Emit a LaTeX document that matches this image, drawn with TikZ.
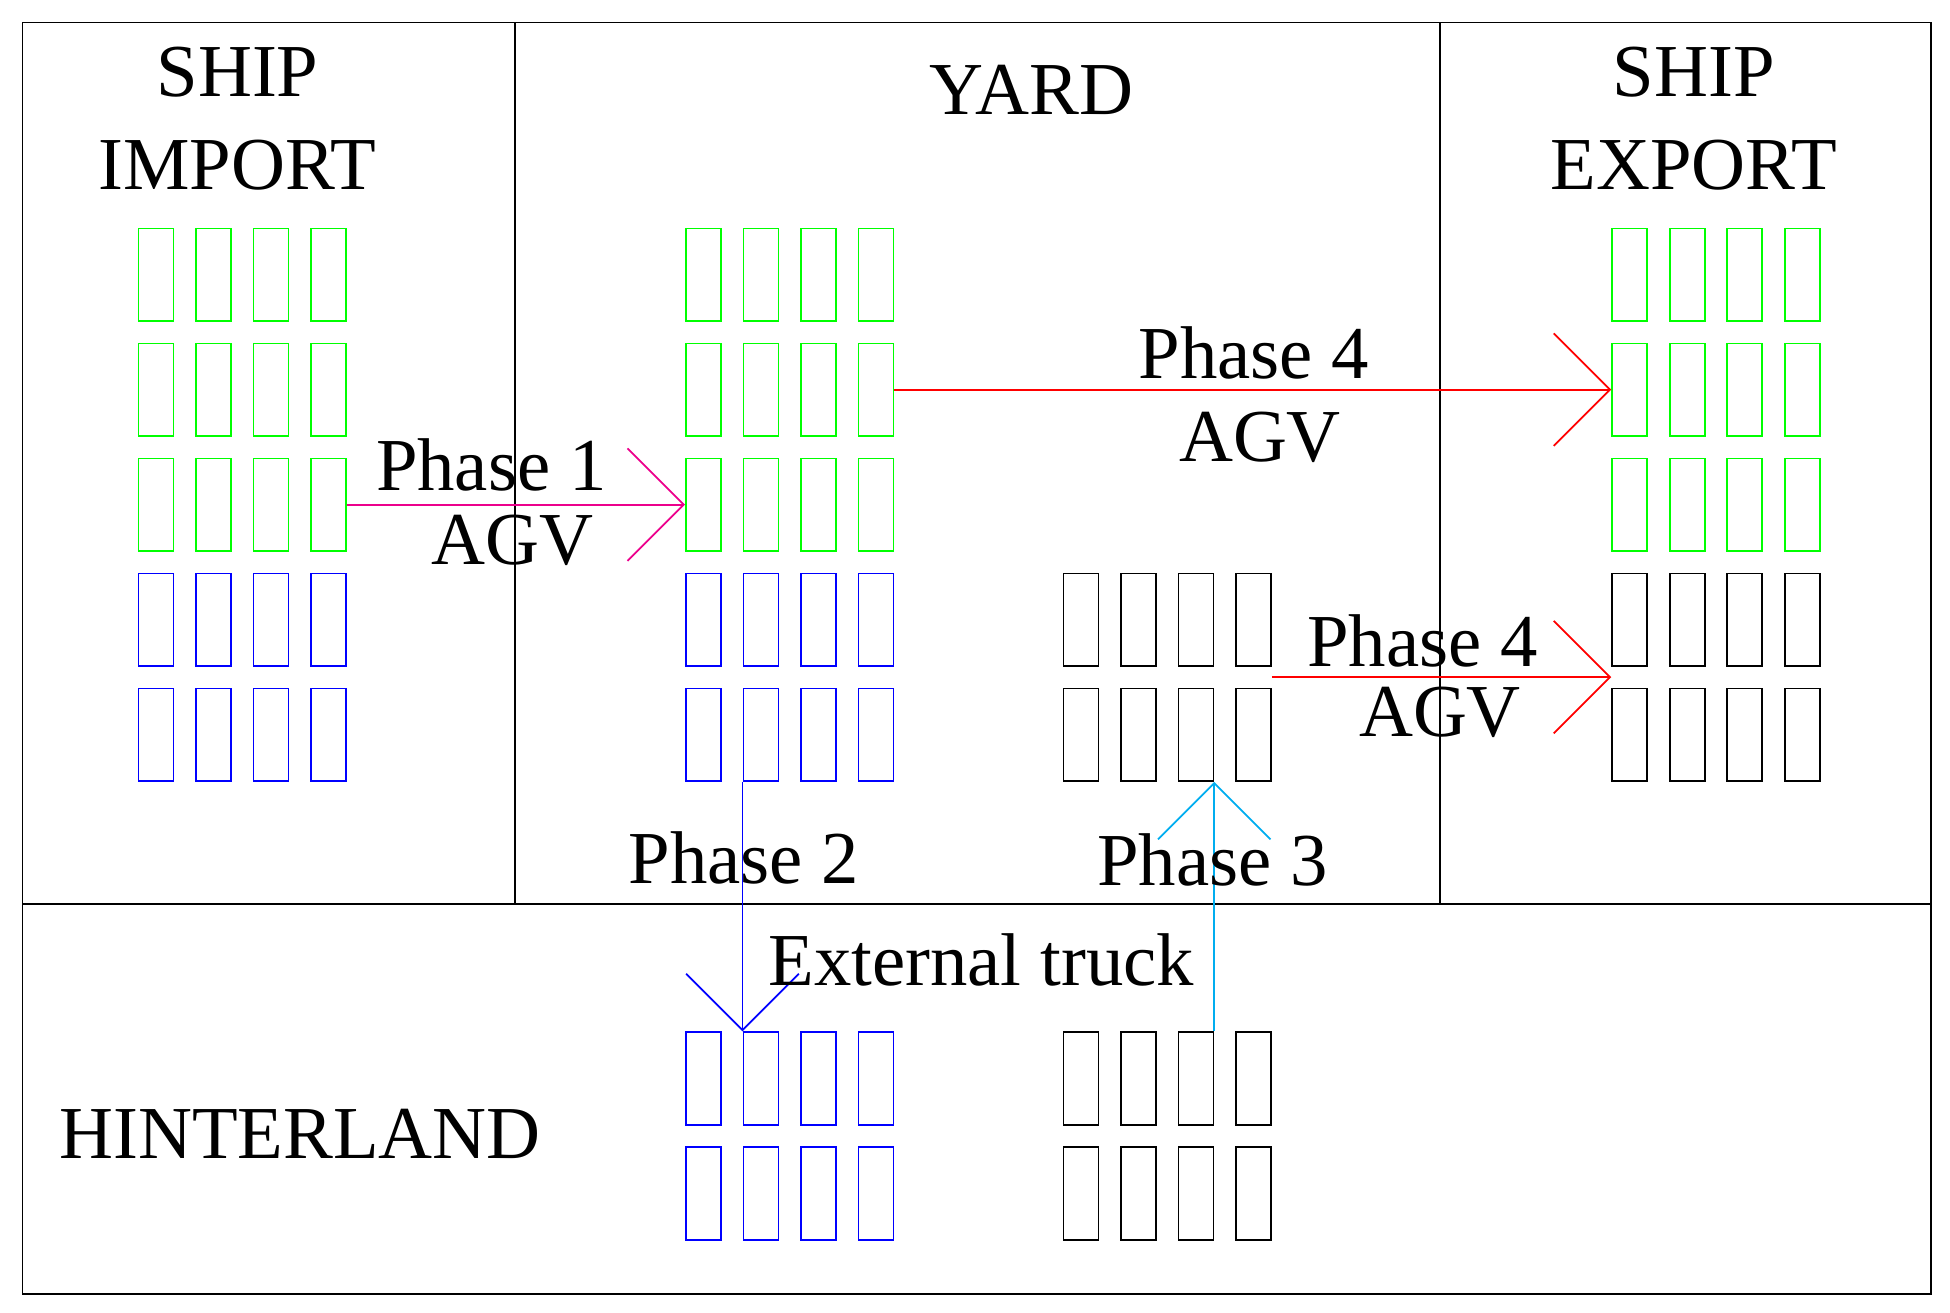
\documentclass[tikz,border=0pt]{standalone}
\usepackage{fontspec}
\setmainfont{Liberation Serif}
\usetikzlibrary{arrows.meta,positioning,calc}

\begin{document}
\begin{tikzpicture}[
        x=0.01cm, y=-0.01cm,
        box/.style={rectangle, draw, minimum width=0.28cm, minimum height=0.74cm, inner sep=0pt, anchor=north west},
        label/.style={font=\fontsize{17}{21}\selectfont, align=center},
        arrow/.style={-{Straight Barb[length=0.45cm, width=0.9cm]}}
    ]
        \useasboundingbox (0,0) rectangle (1560,1050);

        % Areas
        \draw (18,18) rectangle (1545,1035);
        \draw (412,18) -- (412,723);
        \draw (1152,18) -- (1152,723);
        \draw (18,723) -- (1545,723);

        % Container blocks
        \foreach \blk/\x/\y/\rows/\col in {im/110/182/3/green, imb/110/458/2/blue,
                y1/548/182/3/green, y1b/548/458/2/blue, y2/850/458/2/black,
                ex/1289/182/3/green, exb/1289/458/2/black,
                hb/548/825/2/blue, hk/850/825/2/black}{
            \foreach \r in {1,...,\rows}{
                \foreach \c in {1,...,4}{
                    \node[box, draw=\col] (\blk-\r-\c) at ({\x+(\c-1)*46},{\y+(\r-1)*92}) {};
                }
            }
        }

        % Labels
        \node[label] (t_import) at (190,95) {SHIP\\IMPORT};
        \node[label] (t_yard) at (825,72) {YARD};
        \node[label] (t_export) at (1355,95) {SHIP\\EXPORT};
        \node[label] (t_hinter) at (240,907) {HINTERLAND};

        % Phase 1
        \draw[arrow, magenta] (im-3-4.east) -- (y1-3-1.west);
        \node[label] (t_p1) at (393,372) {Phase 1};
        \node[label] (t_agv1) at (410,432) {AGV};

        % Phase 2
        \draw[arrow, blue] (y1b-2-2.south west) -- (hb-1-2.north west);
        \node[label] (t_p2) at (595,686) {Phase 2};
        \node[label] (t_truck) at (785,768) {External truck};

        % Phase 3
        \draw[arrow, cyan] (hk-1-3.north east) -- (y2-2-3.south east);
        \node[label] (t_p3) at (970,688) {Phase 3};

        % Phase 4
        \draw[arrow, red] (y1-2-4.east) -- (ex-2-1.west);
        \node[label] (t_p4a) at (1003,282) {Phase 4};
        \node[label] (t_agv4a) at (1008,350) {AGV};
        \coordinate (p4_start) at ($(y2-1-4.south east)!.5!(y2-2-4.north east)$);
        \coordinate (p4_end) at ($(exb-1-1.south west)!.5!(exb-2-1.north west)$);
        \draw[arrow, red] (p4_start) -- (p4_end);
        \node[label] (t_p4b) at (1138,513) {Phase 4};
        \node[label] (t_agv4b) at (1152,570) {AGV};

    \end{tikzpicture}
\end{document}
